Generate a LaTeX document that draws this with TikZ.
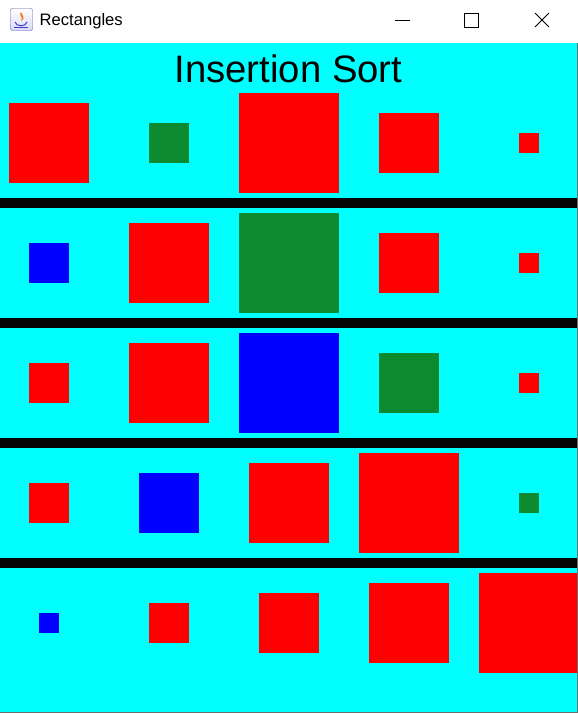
\documentclass[tikz,border=0pt]{standalone}
\usepackage{fontspec}
\setmainfont{Liberation Sans}
\usepackage{xcolor}
\usepackage{tikz}
\usetikzlibrary{positioning}

\definecolor{sortcyan}{RGB}{0,255,255}
\definecolor{sortred}{RGB}{255,0,0}
\definecolor{sortgreen}{RGB}{11,138,47}
\definecolor{sortblue}{RGB}{0,0,255}
\definecolor{framegray}{RGB}{110,110,110}

\begin{document}
\begin{tikzpicture}[x=1pt,y=-1pt,
    box/.style={rectangle,inner sep=0pt,outer sep=0pt,minimum size=#1},
    bar/.style={fill=black!98},
    winbtn/.style={line width=0.9pt,black}]
\useasboundingbox (0,0) rectangle (578,713);

% window
\fill[white] (0,0) rectangle (578,43);
\fill[sortcyan] (0,43) rectangle (578,713);

% title bar
\draw[rounded corners=2pt,draw=gray!70!blue,top color=white,bottom color=blue!15] (10.5,8.5) rectangle (32.5,30.5);
\fill[orange!90!red] (21,12) .. controls (18,15) and (24,17) .. (21,21) .. controls (26,18) and (22,15) .. (21,12);
\draw[blue!50!gray,line width=1pt] (15,22) .. controls (16,27) and (26,27) .. (27,22);
\draw[blue!50!gray,line width=0.8pt] (14,27.5) -- (28,27.5);
\node[anchor=west,inner sep=0pt,font=\fontsize{16.6}{18}\selectfont] (wintitle) at (39.5,21.5) {Rectangles};
\coordinate (minA) at (395,20.5);
\coordinate (minB) at (410,20.5);
\draw[winbtn] (minA) -- (minB);
\draw[winbtn] (464.5,13.5) rectangle (478.5,27.5);
\coordinate (closeA) at (535,13);
\coordinate (closeB) at (549,27);
\draw[winbtn] (closeA) -- (closeB) (535,27) -- (549,13);

% heading
\node[inner sep=0pt,font=\fontsize{38.3}{40}\selectfont] (heading) at (288.5,68.5) {Insertion Sort};

% one strip per pass
\foreach \row [count=\r] in {
    {80/sortred,40/sortgreen,100/sortred,60/sortred,20/sortred},
    {40/sortblue,80/sortred,100/sortgreen,60/sortred,20/sortred},
    {40/sortred,80/sortred,100/sortblue,60/sortgreen,20/sortred},
    {40/sortred,60/sortblue,80/sortred,100/sortred,20/sortgreen},
    {20/sortblue,40/sortred,60/sortred,80/sortred,100/sortred}}
  \foreach \s/\c [count=\k] in \row
    \node[box=\s pt,fill=\c] (sq\r\k) at ({49+120*(\k-1)},{143+120*(\r-1)}) {};

\foreach \y in {198,318,438,558}
  \fill[bar] (0,\y) rectangle (578,\y+10);

% frame edge
\draw[framegray,line width=1pt] (577.5,43) -- (577.5,712.5) -- (0,712.5);
\end{tikzpicture}
\end{document}
